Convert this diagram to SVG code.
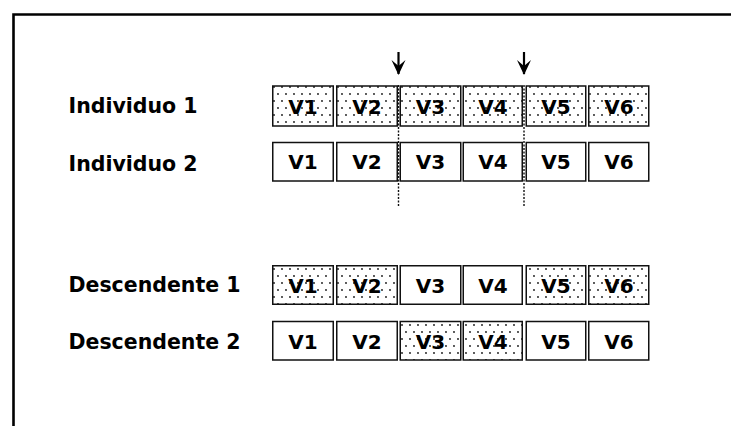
<svg xmlns="http://www.w3.org/2000/svg" width="731" height="426" viewBox="0 0 731 426">
  <defs>
    <pattern id="dots" patternUnits="userSpaceOnUse" width="8" height="14">
      <circle cx="2" cy="3" r="0.9" fill="#111"/>
      <circle cx="6" cy="10" r="0.9" fill="#111"/>
    </pattern>
    <marker id="head" viewBox="0 0 15 15" refX="14" refY="7.5" markerWidth="15" markerHeight="15" markerUnits="userSpaceOnUse" orient="auto">
      <path d="M15,7.5 L0,0.5 L6,7.5 L0,14.5 Z" fill="#000"/>
    </marker>
  </defs>
  <style>
    .lbl { font-family: "DejaVu Sans", Verdana, sans-serif; font-weight: bold; font-size: 20.5px; fill: #000; }
    .gene { font-family: "DejaVu Sans", Verdana, sans-serif; font-weight: bold; font-size: 20px; fill: #000; text-anchor: middle; }
    .box { fill: #fff; stroke: #111; stroke-width: 1.5; }
    .box.dot { fill: url(#dots); }
    .cut { stroke: #111; stroke-width: 1.4; stroke-dasharray: 2 1.5; fill: none; }
    .arrow { stroke: #000; stroke-width: 2.2; fill: none; }
  </style>

  <rect width="731" height="426" fill="#fff"/>

  <!-- frame -->
  <path d="M13.5,426 V14.5 H731" fill="none" stroke="#000" stroke-width="2.6"/>

  <!-- row labels -->
  <text class="lbl" x="68.5" y="112.5">Individuo 1</text>
  <text class="lbl" x="68.5" y="170.5">Individuo 2</text>
  <text class="lbl" x="68.5" y="291.5">Descendente 1</text>
  <text class="lbl" x="68.5" y="348.5">Descendente 2</text>

  <!-- Individuo 1 -->
  <g id="ind1">
    <rect class="box dot" x="272.75" y="86" width="60.5" height="40"/><text class="gene" x="303" y="114">V1</text>
    <rect class="box dot" x="336.75" y="86" width="60.5" height="40"/><text class="gene" x="367" y="114">V2</text>
    <rect class="box dot" x="400.25" y="86" width="60.5" height="40"/><text class="gene" x="430.5" y="114">V3</text>
    <rect class="box dot" x="463.25" y="86" width="59" height="40"/><text class="gene" x="493" y="114">V4</text>
    <rect class="box dot" x="526.25" y="86" width="59.5" height="40"/><text class="gene" x="556" y="114">V5</text>
    <rect class="box dot" x="588.75" y="86" width="60" height="40"/><text class="gene" x="619" y="114">V6</text>
  </g>

  <!-- Individuo 2 -->
  <g id="ind2">
    <rect class="box" x="272.75" y="142.5" width="60.5" height="38.5"/><text class="gene" x="303" y="168.5">V1</text>
    <rect class="box" x="336.75" y="142.5" width="60.5" height="38.5"/><text class="gene" x="367" y="168.5">V2</text>
    <rect class="box" x="400.25" y="142.5" width="60.5" height="38.5"/><text class="gene" x="430.5" y="168.5">V3</text>
    <rect class="box" x="463.25" y="142.5" width="59" height="38.5"/><text class="gene" x="493" y="168.5">V4</text>
    <rect class="box" x="526.25" y="142.5" width="59.5" height="38.5"/><text class="gene" x="556" y="168.5">V5</text>
    <rect class="box" x="588.75" y="142.5" width="60" height="38.5"/><text class="gene" x="619" y="168.5">V6</text>
  </g>

  <!-- Descendente 1 -->
  <g id="desc1">
    <rect class="box dot" x="272.75" y="265.75" width="60.5" height="38.5"/><text class="gene" x="303" y="293">V1</text>
    <rect class="box dot" x="336.75" y="265.75" width="60.5" height="38.5"/><text class="gene" x="367" y="293">V2</text>
    <rect class="box" x="400.25" y="265.75" width="60.5" height="38.5"/><text class="gene" x="430.5" y="293">V3</text>
    <rect class="box" x="463.25" y="265.75" width="59" height="38.5"/><text class="gene" x="493" y="293">V4</text>
    <rect class="box dot" x="526.25" y="265.75" width="59.5" height="38.5"/><text class="gene" x="556" y="293">V5</text>
    <rect class="box dot" x="588.75" y="265.75" width="60" height="38.5"/><text class="gene" x="619" y="293">V6</text>
  </g>

  <!-- Descendente 2 -->
  <g id="desc2">
    <rect class="box" x="272.75" y="321.5" width="60.5" height="38.5"/><text class="gene" x="303" y="349">V1</text>
    <rect class="box" x="336.75" y="321.5" width="60.5" height="38.5"/><text class="gene" x="367" y="349">V2</text>
    <rect class="box dot" x="400.25" y="321.5" width="60.5" height="38.5"/><text class="gene" x="430.5" y="349">V3</text>
    <rect class="box dot" x="463.25" y="321.5" width="59" height="38.5"/><text class="gene" x="493" y="349">V4</text>
    <rect class="box" x="526.25" y="321.5" width="59.5" height="38.5"/><text class="gene" x="556" y="349">V5</text>
    <rect class="box" x="588.75" y="321.5" width="60" height="38.5"/><text class="gene" x="619" y="349">V6</text>
  </g>

  <!-- crossover points: arrows and cut lines -->
  <g id="connectors">
    <line class="arrow" x1="398.5" y1="52" x2="398.5" y2="74" marker-end="url(#head)"/>
    <line class="arrow" x1="524" y1="52" x2="524" y2="74" marker-end="url(#head)"/>
    <line class="cut" x1="398.5" y1="85" x2="398.5" y2="206"/>
    <line class="cut" x1="524" y1="85" x2="524" y2="206"/>
  </g>
</svg>
